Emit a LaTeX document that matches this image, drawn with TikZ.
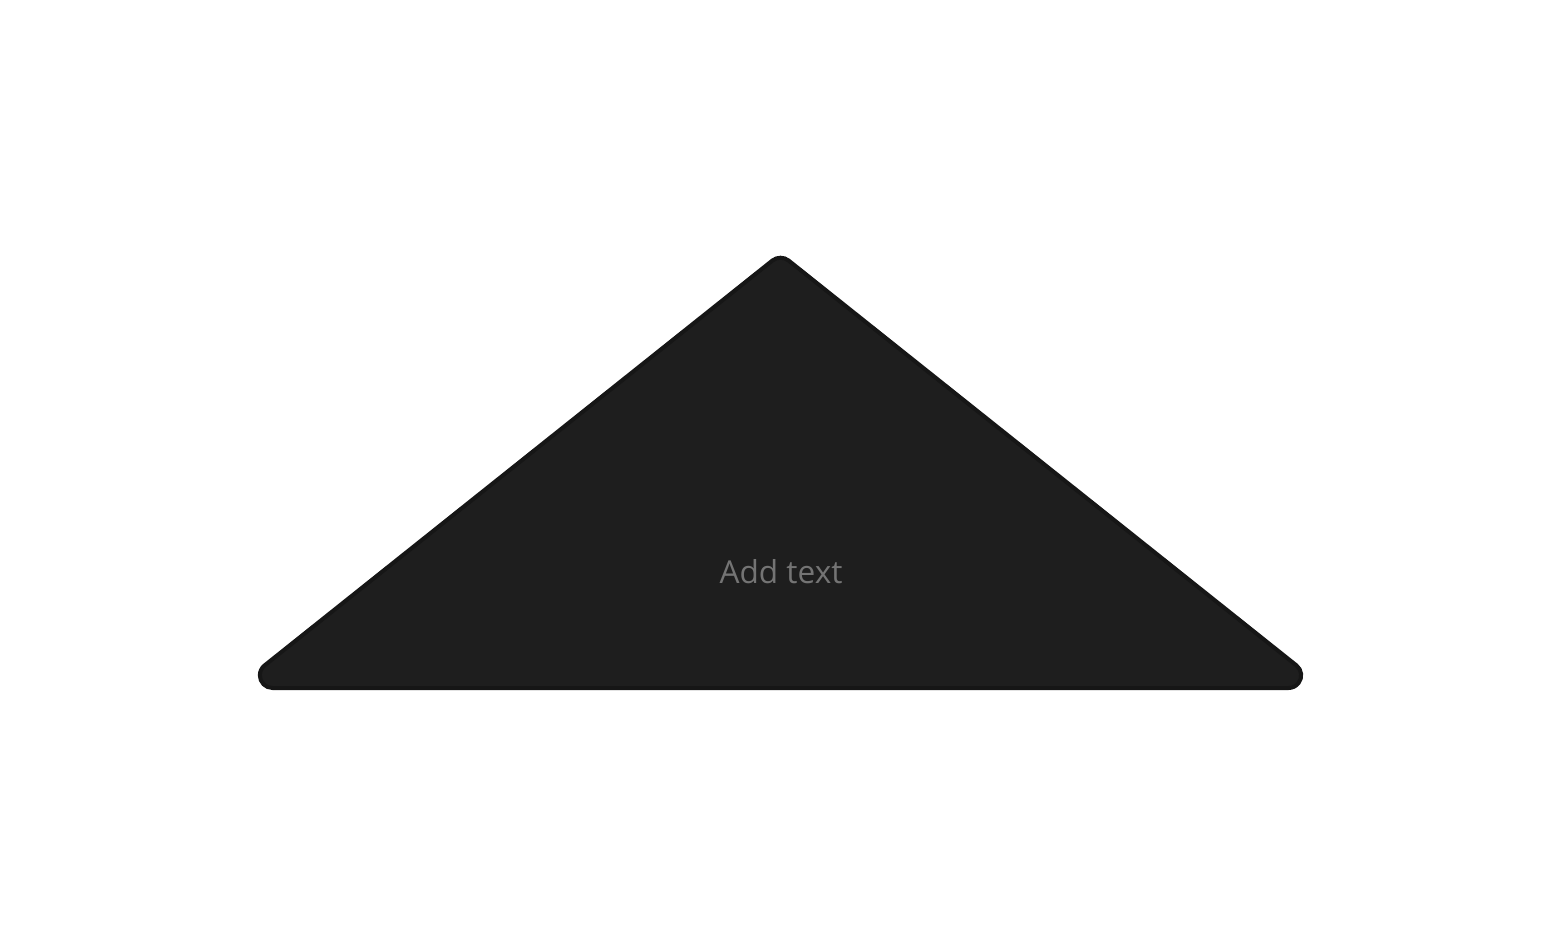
\documentclass[tikz,border=0pt]{standalone}
\usepackage{fontspec}
\setmainfont{Open Sans}
\definecolor{shapefill}{HTML}{1E1E1E}
\definecolor{shapeline}{HTML}{161616}
\definecolor{labelgray}{HTML}{747474}
\begin{document}
\begin{tikzpicture}[x=1pt,y=-1pt,
  tri/.style={fill=shapefill,draw=shapeline,line width=4pt,line join=round},
  lbl/.style={text=labelgray,font=\fontsize{31.6}{38}\selectfont,inner sep=0pt,anchor=base}]
\useasboundingbox (0,0) rectangle (1560,946);
\coordinate (blbase) at (272.53,688);
\coordinate (apexleft) at (772.40,260.52);
\coordinate (brside) at (1296.39,665.36);
\draw[tri] (blbase) arc[start angle=90,end angle=231.45,radius=12.7]
  -- (apexleft) arc[start angle=231.47,end angle=308.53,radius=13]
  -- (brside) arc[start angle=308.55,end angle=450,radius=12.7]
  -- cycle;
\node[lbl] (label) at (781,583) {Add text};
\end{tikzpicture}
\end{document}
